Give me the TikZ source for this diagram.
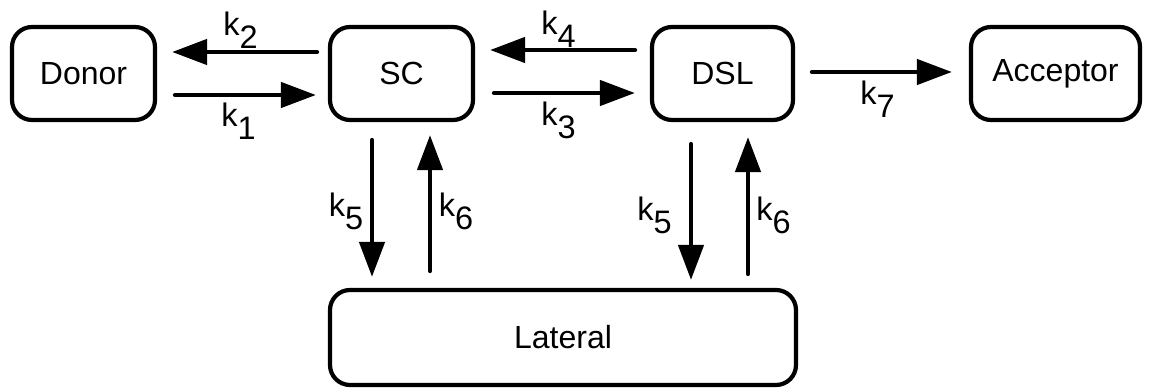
\documentclass[tikz,border=0pt]{standalone}
\usepackage{fontspec}
\setmainfont{Liberation Sans}
\usetikzlibrary{arrows.meta}

% rate label: k with a lowered index in the same size
\newcommand{\rate}[1]{k\raisebox{-0.4em}{#1}}

\tikzset{
  state/.style={draw, line width=4.2pt, rounded corners=20pt, inner sep=0pt,
                minimum height=93pt, font=\fontsize{32}{32}\selectfont},
  flow/.style={line width=4.5pt, line cap=round,
               -{Triangle[length=35pt,width=25pt,line cap=butt]}},
  ratelbl/.style={inner sep=0pt, font=\fontsize{32.5}{32.5}\selectfont}
}

\begin{document}
\begin{tikzpicture}[x=1pt,y=-1pt]
\useasboundingbox (0,0) rectangle (1149,390);

% compartments
\node[state, minimum width=143pt] (Donor)    at (83.5,73.5)  {Donor};
\node[state, minimum width=143pt] (SC)       at (401.5,73.5) {SC};
\node[state, minimum width=141pt] (DSL)      at (722.5,73.5) {DSL};
\node[state, minimum width=169pt] (Acceptor) at (1055.5,73.5) {Acceptor};
\node[state, minimum width=466pt, minimum height=95pt] (Lateral) at (563,337.5) {Lateral};

% horizontal exchange
\draw[flow, shorten <=11pt, shorten >=15pt]
  ([yshift=21.5pt]SC.west) -- ([yshift=21.5pt]Donor.east);
\draw[flow, shorten <=18pt, shorten >=12pt]
  ([yshift=-21.5pt]Donor.east) -- ([yshift=-21.5pt]SC.west);
\draw[flow, shorten <=15pt, shorten >=15pt]
  ([yshift=23.5pt]DSL.west) -- ([yshift=23.5pt]SC.east);
\draw[flow, shorten <=19pt, shorten >=15pt]
  ([yshift=-19.5pt]SC.east) -- ([yshift=-19.5pt]DSL.west);
\draw[flow, shorten <=17pt, shorten >=17pt]
  ([yshift=1.5pt]DSL.east) -- ([yshift=1.5pt]Acceptor.west);

% vertical exchange with the lateral compartment
\draw[flow, shorten <=18pt, shorten >=11pt]
  ([xshift=-29.5pt]SC.south) -- ([xshift=-29.5pt]SC.south |- Lateral.north);
\draw[flow, shorten <=17pt, shorten >=13pt]
  ([xshift=28.5pt]SC.south |- Lateral.north) -- ([xshift=28.5pt]SC.south);
\draw[flow, shorten <=22pt, shorten >=8pt]
  ([xshift=-31.5pt]DSL.south) -- ([xshift=-31.5pt]DSL.south |- Lateral.north);
\draw[flow, shorten <=14pt, shorten >=15pt]
  ([xshift=25.5pt]DSL.south |- Lateral.north) -- ([xshift=25.5pt]DSL.south);

% rate constants
\node[ratelbl] (k2)  at (240.5,30)  {\rate{2}};
\node[ratelbl] (k1)  at (238.5,121) {\rate{1}};
\node[ratelbl] (k4)  at (558.5,29)  {\rate{4}};
\node[ratelbl] (k3)  at (558.5,120) {\rate{3}};
\node[ratelbl] (k7)  at (877.5,99.5) {\rate{7}};
\node[ratelbl] (k5a) at (346,211)   {\rate{5}};
\node[ratelbl] (k6a) at (456,211.5) {\rate{6}};
\node[ratelbl] (k5b) at (654.5,215) {\rate{5}};
\node[ratelbl] (k6b) at (773.5,215) {\rate{6}};
\end{tikzpicture}
\end{document}
